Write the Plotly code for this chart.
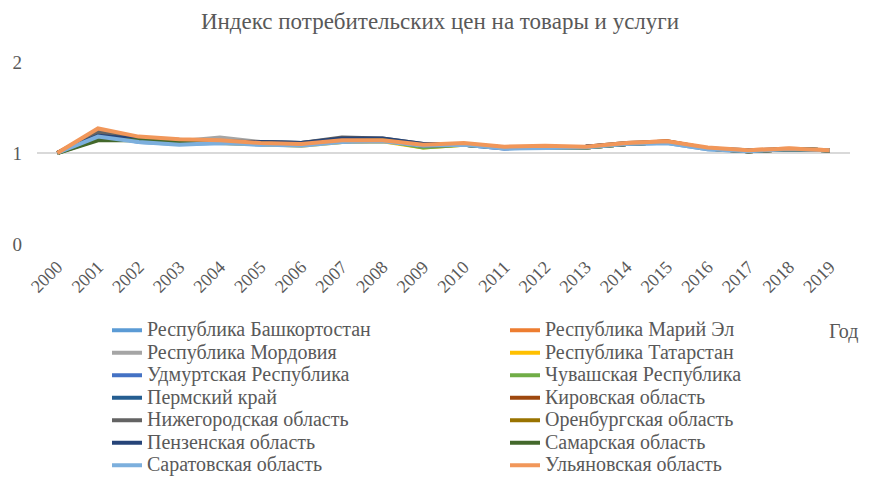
import plotly.graph_objects as go

years = list(range(2000, 2020))

regions = [
    "Республика Башкортостан", "Республика Марий Эл",
    "Республика Мордовия", "Республика Татарстан",
    "Удмуртская Республика", "Чувашская Республика",
    "Пермский край", "Кировская область",
    "Нижегородская область", "Оренбургская область",
    "Пензенская область", "Самарская область",
    "Саратовская область", "Ульяновская область",
]

bashkortostan = [1.00, 1.21, 1.12, 1.10, 1.11, 1.09, 1.09, 1.12, 1.13, 1.08, 1.09, 1.05, 1.06, 1.06, 1.10, 1.11, 1.04, 1.02, 1.04, 1.03]
mari_el = [1.00, 1.25, 1.17, 1.14, 1.13, 1.11, 1.10, 1.13, 1.14, 1.09, 1.10, 1.06, 1.07, 1.07, 1.11, 1.13, 1.05, 1.03, 1.05, 1.03]
mordovia = [1.00, 1.20, 1.15, 1.13, 1.17, 1.12, 1.10, 1.14, 1.15, 1.09, 1.09, 1.06, 1.07, 1.06, 1.10, 1.12, 1.05, 1.02, 1.04, 1.03]
tatarstan = [1.00, 1.17, 1.14, 1.12, 1.11, 1.10, 1.08, 1.12, 1.13, 1.06, 1.09, 1.06, 1.06, 1.06, 1.10, 1.12, 1.05, 1.02, 1.04, 1.03]
udmurtia = [1.00, 1.22, 1.14, 1.11, 1.12, 1.11, 1.10, 1.13, 1.14, 1.09, 1.09, 1.05, 1.07, 1.06, 1.10, 1.12, 1.05, 1.02, 1.04, 1.03]
chuvashia = [1.00, 1.15, 1.14, 1.12, 1.12, 1.10, 1.09, 1.13, 1.14, 1.06, 1.09, 1.06, 1.06, 1.06, 1.10, 1.12, 1.05, 1.02, 1.04, 1.03]
perm = [1.00, 1.20, 1.15, 1.13, 1.12, 1.12, 1.11, 1.15, 1.15, 1.09, 1.09, 1.06, 1.07, 1.07, 1.10, 1.12, 1.05, 1.03, 1.04, 1.03]
kirov = [1.00, 1.19, 1.15, 1.13, 1.12, 1.11, 1.10, 1.14, 1.14, 1.09, 1.10, 1.06, 1.07, 1.07, 1.10, 1.13, 1.05, 1.02, 1.04, 1.03]
nizhny = [1.00, 1.23, 1.16, 1.14, 1.13, 1.12, 1.11, 1.17, 1.16, 1.10, 1.10, 1.06, 1.07, 1.07, 1.11, 1.12, 1.05, 1.02, 1.04, 1.03]
orenburg = [1.00, 1.17, 1.15, 1.13, 1.12, 1.11, 1.09, 1.13, 1.14, 1.08, 1.09, 1.06, 1.06, 1.06, 1.10, 1.12, 1.05, 1.02, 1.04, 1.03]
penza = [1.00, 1.19, 1.15, 1.13, 1.12, 1.12, 1.11, 1.16, 1.16, 1.10, 1.10, 1.06, 1.07, 1.07, 1.10, 1.12, 1.05, 1.02, 1.04, 1.03]
samara = [1.00, 1.14, 1.14, 1.12, 1.12, 1.11, 1.09, 1.13, 1.14, 1.08, 1.09, 1.06, 1.06, 1.06, 1.10, 1.12, 1.05, 1.02, 1.04, 1.03]
saratov = [1.00, 1.18, 1.12, 1.09, 1.11, 1.09, 1.08, 1.12, 1.13, 1.08, 1.09, 1.05, 1.06, 1.06, 1.10, 1.11, 1.04, 1.02, 1.04, 1.03]
ulyanovsk = [1.00, 1.27, 1.18, 1.15, 1.14, 1.11, 1.10, 1.14, 1.14, 1.09, 1.11, 1.07, 1.08, 1.07, 1.11, 1.13, 1.06, 1.03, 1.05, 1.03]

series = [bashkortostan, mari_el, mordovia, tatarstan, udmurtia, chuvashia, perm,
          kirov, nizhny, orenburg, penza, samara, saratov, ulyanovsk]

colors = ["#5B9BD5", "#ED7D31", "#A5A5A5", "#FFC000", "#4472C4", "#70AD47", "#255E91",
          "#9E480E", "#636363", "#997300", "#264478", "#43682B", "#7CAFDD", "#F1975A"]

FONT = "Liberation Serif"
GREY = "#595959"
W, H = 881, 485

fig = go.Figure()
for i, (name, vals) in enumerate(zip(regions, series)):
    fig.add_trace(go.Scatter(
        x=years, y=vals, mode="lines",
        # legend rows stay tight (size 15) while the label itself is drawn bigger
        name="<span style='font-size:20px'>%s</span>" % name,
        line=dict(color=colors[i], width=4),
        legend="legend" if i % 2 == 0 else "legend2",
    ))

# two legend columns, filled alternately like the original
legend_style = dict(
    xref="container", yref="container", yanchor="top", xanchor="left",
    font=dict(family=FONT, size=15, color=GREY),
    bgcolor="rgba(0,0,0,0)", tracegroupgap=0,
)

fig.update_layout(
    width=W, height=H,
    margin=dict(l=29, r=39, t=54, b=249, autoexpand=False),
    plot_bgcolor="white", paper_bgcolor="white",
    title=dict(text="Индекс потребительских цен на товары и услуги",
               x=432 / W, xanchor="center", yref="container", y=1 - 13 / H, yanchor="middle",
               font=dict(family=FONT, size=23, color=GREY)),
    xaxis=dict(range=[1999.5, 2019.5], tickvals=years, ticktext=[str(y) for y in years],
               tickangle=-45, showgrid=False, zeroline=False, showline=False,
               ticks="", ticklabelstandoff=8,
               tickfont=dict(family=FONT, size=18, color=GREY)),
    yaxis=dict(range=[0, 2], tickvals=[0, 1, 2], showgrid=True, gridcolor="#D9D9D9",
               gridwidth=1.8, zeroline=False, showline=False, ticks="",
               ticklabelstandoff=14,
               tickfont=dict(family=FONT, size=19, color=GREY)),
    legend=dict(x=99 / W, y=1 - 306 / H, **legend_style),
    legend2=dict(x=497 / W, y=1 - 306 / H, **legend_style),
    annotations=[dict(text="Год", xref="paper", yref="paper", x=1.0, y=0.0,
                      xanchor="right", yanchor="middle", showarrow=False,
                      xshift=10, yshift=-87,
                      font=dict(family=FONT, size=20, color=GREY))],
)

fig.write_html("out.html")
